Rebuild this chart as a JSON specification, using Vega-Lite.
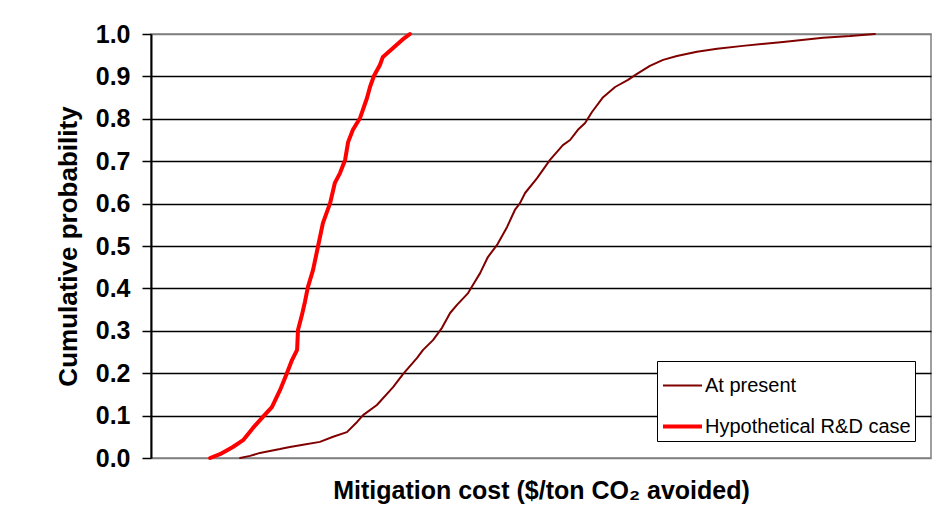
{
  "$schema": "https://vega.github.io/schema/vega-lite/v6.json",
  "width": 780,
  "height": 424,
  "autosize": "none",
  "padding": {"left": 151, "top": 34, "right": 16, "bottom": 56},
  "background": "white",
  "config": {
    "font": "Liberation Sans",
    "view": {"stroke": "#808080", "strokeWidth": 1.5},
    "legend": {"strokeColor": "black", "fillColor": "white"}
  },
  "data": {
    "values": [
      {"series": "At present", "cost": 29.7, "p": 0},
      {"series": "At present", "cost": 33.0, "p": 0.005},
      {"series": "At present", "cost": 36.3, "p": 0.012},
      {"series": "At present", "cost": 43.0, "p": 0.021},
      {"series": "At present", "cost": 46.3, "p": 0.026},
      {"series": "At present", "cost": 50.7, "p": 0.031},
      {"series": "At present", "cost": 56.3, "p": 0.038},
      {"series": "At present", "cost": 60.7, "p": 0.05},
      {"series": "At present", "cost": 65.3, "p": 0.061},
      {"series": "At present", "cost": 68.7, "p": 0.085},
      {"series": "At present", "cost": 70.7, "p": 0.101},
      {"series": "At present", "cost": 75.3, "p": 0.125},
      {"series": "At present", "cost": 80.7, "p": 0.167},
      {"series": "At present", "cost": 84.0, "p": 0.198},
      {"series": "At present", "cost": 88.7, "p": 0.236},
      {"series": "At present", "cost": 90.7, "p": 0.255},
      {"series": "At present", "cost": 94.0, "p": 0.278},
      {"series": "At present", "cost": 97.0, "p": 0.307},
      {"series": "At present", "cost": 99.7, "p": 0.342},
      {"series": "At present", "cost": 102.0, "p": 0.361},
      {"series": "At present", "cost": 105.7, "p": 0.389},
      {"series": "At present", "cost": 107.3, "p": 0.408},
      {"series": "At present", "cost": 109.7, "p": 0.436},
      {"series": "At present", "cost": 112.3, "p": 0.474},
      {"series": "At present", "cost": 115.3, "p": 0.502},
      {"series": "At present", "cost": 118.7, "p": 0.545},
      {"series": "At present", "cost": 121.3, "p": 0.585},
      {"series": "At present", "cost": 123.0, "p": 0.601},
      {"series": "At present", "cost": 124.7, "p": 0.625},
      {"series": "At present", "cost": 128.7, "p": 0.66},
      {"series": "At present", "cost": 133.0, "p": 0.703},
      {"series": "At present", "cost": 137.3, "p": 0.738},
      {"series": "At present", "cost": 139.7, "p": 0.75},
      {"series": "At present", "cost": 142.3, "p": 0.774},
      {"series": "At present", "cost": 144.7, "p": 0.79},
      {"series": "At present", "cost": 147.0, "p": 0.816},
      {"series": "At present", "cost": 150.7, "p": 0.851},
      {"series": "At present", "cost": 154.7, "p": 0.875},
      {"series": "At present", "cost": 159.0, "p": 0.892},
      {"series": "At present", "cost": 162.0, "p": 0.906},
      {"series": "At present", "cost": 166.3, "p": 0.925},
      {"series": "At present", "cost": 170.7, "p": 0.939},
      {"series": "At present", "cost": 175.3, "p": 0.948},
      {"series": "At present", "cost": 182.0, "p": 0.958},
      {"series": "At present", "cost": 188.7, "p": 0.965},
      {"series": "At present", "cost": 197.3, "p": 0.972},
      {"series": "At present", "cost": 210.7, "p": 0.981},
      {"series": "At present", "cost": 224.0, "p": 0.991},
      {"series": "At present", "cost": 233.0, "p": 0.995},
      {"series": "At present", "cost": 241.3, "p": 1.0},
      {"series": "Hypothetical R&D case", "cost": 19.7, "p": 0},
      {"series": "Hypothetical R&D case", "cost": 23.0, "p": 0.009},
      {"series": "Hypothetical R&D case", "cost": 27.3, "p": 0.026},
      {"series": "Hypothetical R&D case", "cost": 30.7, "p": 0.042},
      {"series": "Hypothetical R&D case", "cost": 34.0, "p": 0.071},
      {"series": "Hypothetical R&D case", "cost": 37.3, "p": 0.097},
      {"series": "Hypothetical R&D case", "cost": 40.3, "p": 0.12},
      {"series": "Hypothetical R&D case", "cost": 43.0, "p": 0.16},
      {"series": "Hypothetical R&D case", "cost": 45.3, "p": 0.2},
      {"series": "Hypothetical R&D case", "cost": 47.0, "p": 0.231},
      {"series": "Hypothetical R&D case", "cost": 48.7, "p": 0.255},
      {"series": "Hypothetical R&D case", "cost": 49.0, "p": 0.302},
      {"series": "Hypothetical R&D case", "cost": 50.3, "p": 0.337},
      {"series": "Hypothetical R&D case", "cost": 51.3, "p": 0.368},
      {"series": "Hypothetical R&D case", "cost": 52.3, "p": 0.403},
      {"series": "Hypothetical R&D case", "cost": 54.0, "p": 0.443},
      {"series": "Hypothetical R&D case", "cost": 55.7, "p": 0.5},
      {"series": "Hypothetical R&D case", "cost": 57.3, "p": 0.554},
      {"series": "Hypothetical R&D case", "cost": 59.7, "p": 0.601},
      {"series": "Hypothetical R&D case", "cost": 61.3, "p": 0.649},
      {"series": "Hypothetical R&D case", "cost": 63.0, "p": 0.672},
      {"series": "Hypothetical R&D case", "cost": 64.7, "p": 0.703},
      {"series": "Hypothetical R&D case", "cost": 65.7, "p": 0.745},
      {"series": "Hypothetical R&D case", "cost": 67.3, "p": 0.774},
      {"series": "Hypothetical R&D case", "cost": 69.7, "p": 0.802},
      {"series": "Hypothetical R&D case", "cost": 72.0, "p": 0.849},
      {"series": "Hypothetical R&D case", "cost": 73.0, "p": 0.875},
      {"series": "Hypothetical R&D case", "cost": 74.3, "p": 0.901},
      {"series": "Hypothetical R&D case", "cost": 76.3, "p": 0.927},
      {"series": "Hypothetical R&D case", "cost": 77.3, "p": 0.946},
      {"series": "Hypothetical R&D case", "cost": 80.7, "p": 0.967},
      {"series": "Hypothetical R&D case", "cost": 83.7, "p": 0.986},
      {"series": "Hypothetical R&D case", "cost": 86.3, "p": 1.0}
    ]
  },
  "mark": {"type": "line", "interpolate": "linear", "strokeJoin": "round", "strokeCap": "round"},
  "encoding": {
    "x": {
      "field": "cost",
      "type": "quantitative",
      "scale": {"domain": [0, 260], "nice": false, "zero": false},
      "axis": {
        "title": "Mitigation cost ($/ton CO₂ avoided)",
        "titleFont": "Liberation Sans",
        "titleFontSize": 25,
        "titleFontWeight": "bold",
        "titleColor": "black",
        "titlePadding": 20,
        "labels": false,
        "ticks": false,
        "domain": false,
        "grid": false
      }
    },
    "y": {
      "field": "p",
      "type": "quantitative",
      "scale": {"domain": [0, 1], "nice": false},
      "axis": {
        "title": "Cumulative probability",
        "titleFont": "Liberation Sans",
        "titleFontSize": 26,
        "titleFontWeight": "bold",
        "titleColor": "black",
        "titlePadding": 14,
        "values": [0, 0.1, 0.2, 0.3, 0.4, 0.5, 0.6, 0.7, 0.8, 0.9, 1.0],
        "format": ".1f",
        "labelFont": "Liberation Sans",
        "labelFontSize": 25,
        "labelFontWeight": "bold",
        "labelColor": "black",
        "labelPadding": 12,
        "tickSize": 9,
        "tickColor": "black",
        "tickWidth": 1.5,
        "domainColor": "black",
        "domainWidth": 2,
        "grid": true,
        "gridColor": {"condition": {"test": "datum.value == 0 || datum.value == 1", "value": "#808080"}, "value": "black"},
        "gridWidth": 1.3,
        "gridOpacity": 1
      }
    },
    "color": {
      "field": "series",
      "type": "nominal",
      "scale": {"domain": ["At present", "Hypothetical R&D case"], "range": ["#800000", "#FF0000"]},
      "legend": {
        "title": null,
        "orient": "none",
        "legendX": 506,
        "legendY": 327,
        "direction": "vertical",
        "symbolType": "stroke",
        "symbolSize": 1521,
        "labelFont": "Liberation Sans",
        "labelFontSize": 20,
        "labelColor": "black",
        "labelOffset": 1,
        "labelLimit": 400,
        "rowPadding": 9,
        "padding": 4
      }
    },
    "strokeWidth": {
      "field": "series",
      "type": "nominal",
      "scale": {"domain": ["At present", "Hypothetical R&D case"], "range": [2, 4]},
      "legend": null
    }
  }
}
